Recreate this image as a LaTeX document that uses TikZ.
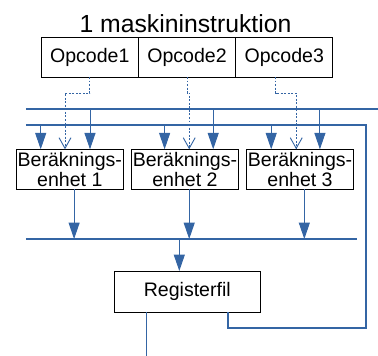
\documentclass[tikz,border=0pt]{standalone}
\usepackage{fontspec}
\setmainfont{Liberation Sans}
\usetikzlibrary{positioning, arrows.meta, calc}

\begin{document}
\begin{tikzpicture}[
    x=0.025cm,
    y=-0.025cm,
    font=\fontsize{13.9pt}{14.2pt}\selectfont,
    opbox/.style={draw=black, line width=0.7pt, minimum width=2.43cm, minimum height=1cm, inner sep=1pt, outer sep=0pt},
    unitbox/.style={draw=black, line width=0.7pt, minimum width=2.625cm, minimum height=1cm, inner sep=1pt, outer sep=0pt, align=center},
    regbox/.style={draw=black, line width=0.7pt, minimum width=3.65cm, minimum height=1.025cm, inner sep=1pt, outer sep=0pt},
    bus/.style={draw=colL, line width=0.72pt},
    arr/.style={draw=colL, line width=0.7pt, -{Triangle[width=7.8pt, length=11.6pt]}},
    ctl/.style={draw=colL, line width=0.65pt, dash pattern=on 1.4pt off 1.1pt, -{Straight Barb[width=8.5pt, length=7.6pt]}}
]

\definecolor{colL}{HTML}{3465A4}

\useasboundingbox (0,0) rectangle (378,356);

\node[anchor=base, font=\fontsize{17.6pt}{20pt}\selectfont] (title) at (185.5,32) {1 maskininstruktion};

% instruction word and the three units
\node[opbox] (op1) at (89.8,57) {Opcode1};
\node[opbox, right=0pt of op1] (op2) {Opcode2};
\node[opbox, right=0pt of op2] (op3) {Opcode3};

\node[unitbox] (e1) at (69.8,169.3) {Beräknings-\\enhet 1};
\node[unitbox, right=0.2cm of e1] (e2) {Beräknings-\\enhet 2};
\node[unitbox, right=0.2cm of e2] (e3) {Beräknings-\\enhet 3};

\node[regbox] (reg) at (187.3,291.5) {Registerfil};

% operand buses
\coordinate (aW) at (26,109);
\coordinate (aE) at (378,109);
\coordinate (bW) at (26,125);
\coordinate (bE) at (366,125);
\coordinate (cW) at (26,239);
\coordinate (cE) at (357,239);
\coordinate (fb) at (228,328);
\coordinate (outE) at (146.7,356);

\draw[bus] (aW) -- (aE);
\draw[bus] (bW) -- (bE) |- (fb) -- (fb |- reg.south);
\draw[bus] (cW) -- (cE);

\foreach \i/\dl/\dr in {1/-29.1/20.2, 2/-20.3/28.3, 3/-28.8/19.9} {
    \path (e\i.north) ++(\dl,0) coordinate (tl\i);
    \path (e\i.north) ++(\dr,0) coordinate (tr\i);
    \draw[arr] (tl\i |- bW) -- (tl\i);
    \draw[arr] (tr\i |- aW) -- (tr\i);
}

% opcode control lines
\foreach \i/\ds/\dt in {1/0/-4.8, 2/0/4.3, 3/-8.6/-3.8} {
    \path (op\i.south) ++(\ds,0) coordinate (os\i);
    \path (e\i.north) ++(\dt,0) coordinate (ot\i);
    \draw[ctl] (os\i) -- ++(0,16) -| (ot\i);
}

% results back to the register file
\foreach \i in {1,2,3} {
    \path (e\i.south) ++(4.3,0) coordinate (ub\i);
    \draw[arr] (ub\i) -- (ub\i |- cW);
}

\path (reg.north) ++(-8,0) coordinate (rin);
\draw[arr] (rin |- cW) -- (rin);

\path (reg.south) ++(-40.6,0) coordinate (rout);
\draw[bus] (rout) -- (outE);

\end{tikzpicture}
\end{document}
